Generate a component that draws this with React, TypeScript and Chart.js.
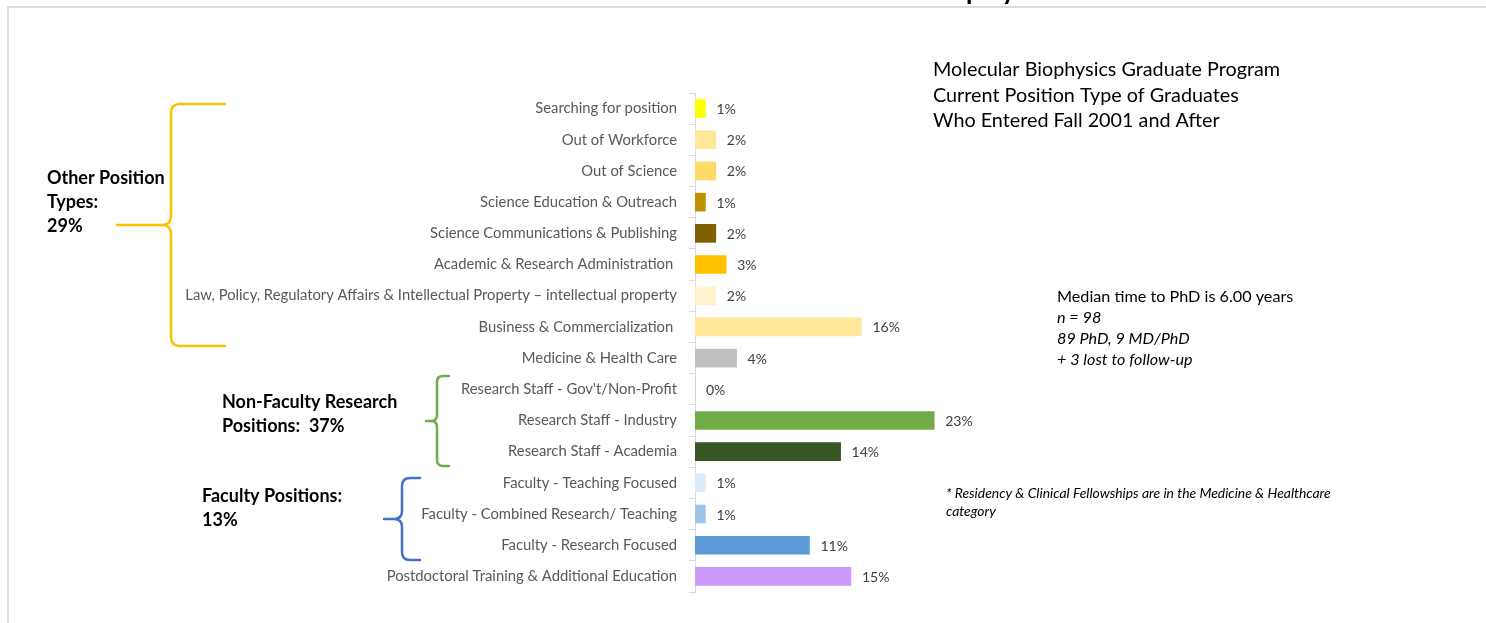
import React, { useEffect, useRef } from "react";
import { Chart, registerables } from "chart.js";

Chart.register(...registerables);

const categories = [
  "Searching for position",
  "Out of Workforce",
  "Out of Science",
  "Science Education & Outreach",
  "Science Communications & Publishing",
  "Academic & Research Administration ",
  "Law, Policy, Regulatory Affairs & Intellectual Property \u2013 intellectual property",
  "Business & Commercialization ",
  "Medicine & Health Care",
  "Research Staff - Gov't/Non-Profit",
  "Research Staff - Industry",
  "Research Staff - Academia",
  "Faculty - Teaching Focused",
  "Faculty - Combined Research/ Teaching",
  "Faculty - Research Focused",
  "Postdoctoral Training & Additional Education",
];

const values = [1, 2, 2, 1, 2, 3, 2, 16, 4, 0, 23, 14, 1, 1, 11, 15];

const barColors = [
  "#FFFF00",
  "#FFE699",
  "#FFD966",
  "#BF9000",
  "#7F6000",
  "#FFC000",
  "#FFF2CC",
  "#FFE699",
  "#BFBFBF",
  "#BFBFBF",
  "#70AD47",
  "#375623",
  "#DDEBF7",
  "#9DC3E6",
  "#5B9BD5",
  "#CC99FF",
];

const titleLines = [
  "Molecular Biophysics Graduate Program",
  "Current Position Type of Graduates",
  "Who Entered Fall 2001 and After",
];
const medianLines = [
  "Median time to PhD is 6.00 years",
  "n = 98",
  "89 PhD, 9 MD/PhD",
  "+ 3 lost to follow-up",
];
const footnoteLines = [
  "* Residency & Clinical Fellowships are in the Medicine & Healthcare",
  "category",
];
const otherGroupLines = ["Other Position", "Types:", "29%"];
const nonFacultyGroupLines = ["Non-Faculty Research", "Positions:  37%"];
const facultyGroupLines = ["Faculty Positions:", "13%"];
const cutTitle = "Current Employment";

const FONT = "Lato, 'Open Sans', sans-serif";

function brace(
  ctx: CanvasRenderingContext2D,
  x: number,
  top: number,
  bottom: number,
  mid: number,
  tipX: number,
  armX: number,
  r: number,
  color: string
) {
  ctx.save();
  ctx.strokeStyle = color;
  ctx.lineWidth = 2.5;
  ctx.lineCap = "round";
  ctx.beginPath();
  ctx.moveTo(armX, top);
  ctx.lineTo(x + r, top);
  ctx.quadraticCurveTo(x, top, x, top + r);
  ctx.lineTo(x, mid - r);
  ctx.quadraticCurveTo(x, mid, x - r, mid);
  ctx.lineTo(tipX, mid);
  ctx.moveTo(x - r, mid);
  ctx.quadraticCurveTo(x, mid, x, mid + r);
  ctx.lineTo(x, bottom - r);
  ctx.quadraticCurveTo(x, bottom, x + r, bottom);
  ctx.lineTo(armX, bottom);
  ctx.stroke();
  ctx.restore();
}

function lines(
  ctx: CanvasRenderingContext2D,
  arr: string[],
  x: number,
  y0: number,
  dy: number,
  font: (i: number) => string,
  color: string
) {
  ctx.save();
  ctx.fillStyle = color;
  ctx.textAlign = "left";
  ctx.textBaseline = "middle";
  arr.forEach((t, i) => {
    ctx.font = font(i);
    ctx.fillText(t, x, y0 + i * dy);
  });
  ctx.restore();
}

const decorPlugin = {
  id: "decor",
  afterDatasetsDraw(chart: any) {
    const ctx: CanvasRenderingContext2D = chart.ctx;
    const meta = chart.getDatasetMeta(0);
    ctx.save();
    ctx.fillStyle = "#404040";
    ctx.font = `14px ${FONT}`;
    ctx.textAlign = "left";
    ctx.textBaseline = "middle";
    meta.data.forEach((el: any, i: number) => {
      ctx.fillText(values[i] + "%", el.x + 11, el.y + 1);
    });
    ctx.restore();
  },
  afterDraw(chart: any) {
    const ctx: CanvasRenderingContext2D = chart.ctx;
    // frame
    ctx.save();
    ctx.strokeStyle = "#dcdcdc";
    ctx.lineWidth = 2;
    ctx.beginPath();
    ctx.moveTo(8, 623);
    ctx.lineTo(8, 7);
    ctx.lineTo(1486, 7);
    ctx.stroke();
    // cut off title
    ctx.fillStyle = "#000";
    ctx.font = `bold 26px ${FONT}`;
    ctx.textBaseline = "alphabetic";
    ctx.textAlign = "left";
    const pre = ctx.measureText("Current Em").width;
    ctx.fillText(cutTitle, 966 - pre, 0);
    ctx.restore();

    // braces
    brace(ctx, 171, 104, 346, 225, 117, 225, 9, "#FFC000");
    brace(ctx, 437, 376, 466, 421, 426, 449, 6, "#70AD47");
    brace(ctx, 402, 478, 560, 519, 384, 420, 8, "#4472C4");

    // group labels
    lines(ctx, otherGroupLines, 47, 178, 24, () => `bold 18px ${FONT}`, "#000");
    lines(ctx, nonFacultyGroupLines, 222, 402, 24, () => `bold 18px ${FONT}`, "#000");
    lines(ctx, facultyGroupLines, 202, 496, 24, () => `bold 18px ${FONT}`, "#000");

    // title block
    lines(ctx, titleLines, 933, 70, 25.5, () => `19.8px ${FONT}`, "#000");
    // median block
    lines(
      ctx,
      medianLines,
      1057,
      297,
      21,
      (i) => (i === 0 ? `16.2px ${FONT}` : `italic 16.2px ${FONT}`),
      "#000"
    );
    // footnote
    lines(ctx, footnoteLines, 946, 494, 18, () => `italic 13.9px ${FONT}`, "#000");
  },
};

export default function App() {
  const ref = useRef<HTMLCanvasElement>(null);
  useEffect(() => {
    const chart = new Chart(ref.current as HTMLCanvasElement, {
      type: "bar",
      data: {
        labels: categories,
        datasets: [
          {
            data: values,
            backgroundColor: barColors,
            borderWidth: 0,
            barThickness: 18,
          },
        ],
      },
      options: {
        indexAxis: "y",
        responsive: false,
        devicePixelRatio: 1,
        animation: false,
        layout: { padding: { left: 0, right: 479, top: 93, bottom: 31 } },
        plugins: { legend: { display: false }, tooltip: { enabled: false } },
        scales: {
          x: { display: false, min: 0, max: 30 },
          y: {
            position: "left",
            grid: {
              drawOnChartArea: false,
              drawTicks: true,
              tickLength: 6,
              color: "#d9d9d9",
              offset: true,
            },
            border: { color: "#d9d9d9", width: 1 },
            ticks: {
              color: "#595959",
              font: { family: FONT, size: 14.8 },
              padding: 12,
              autoSkip: false,
            },
            afterFit: (s: any) => {
              s.width = 695;
            },
          },
        },
      },
      plugins: [decorPlugin],
    } as any);
    return () => chart.destroy();
  }, []);
  return (
    <div
      style={{
        position: "fixed",
        left: 0,
        top: 0,
        width: 1486,
        height: 623,
        background: "#fff",
      }}
    >
      <canvas ref={ref} width={1486} height={623} style={{ display: "block" }} />
    </div>
  );
}
